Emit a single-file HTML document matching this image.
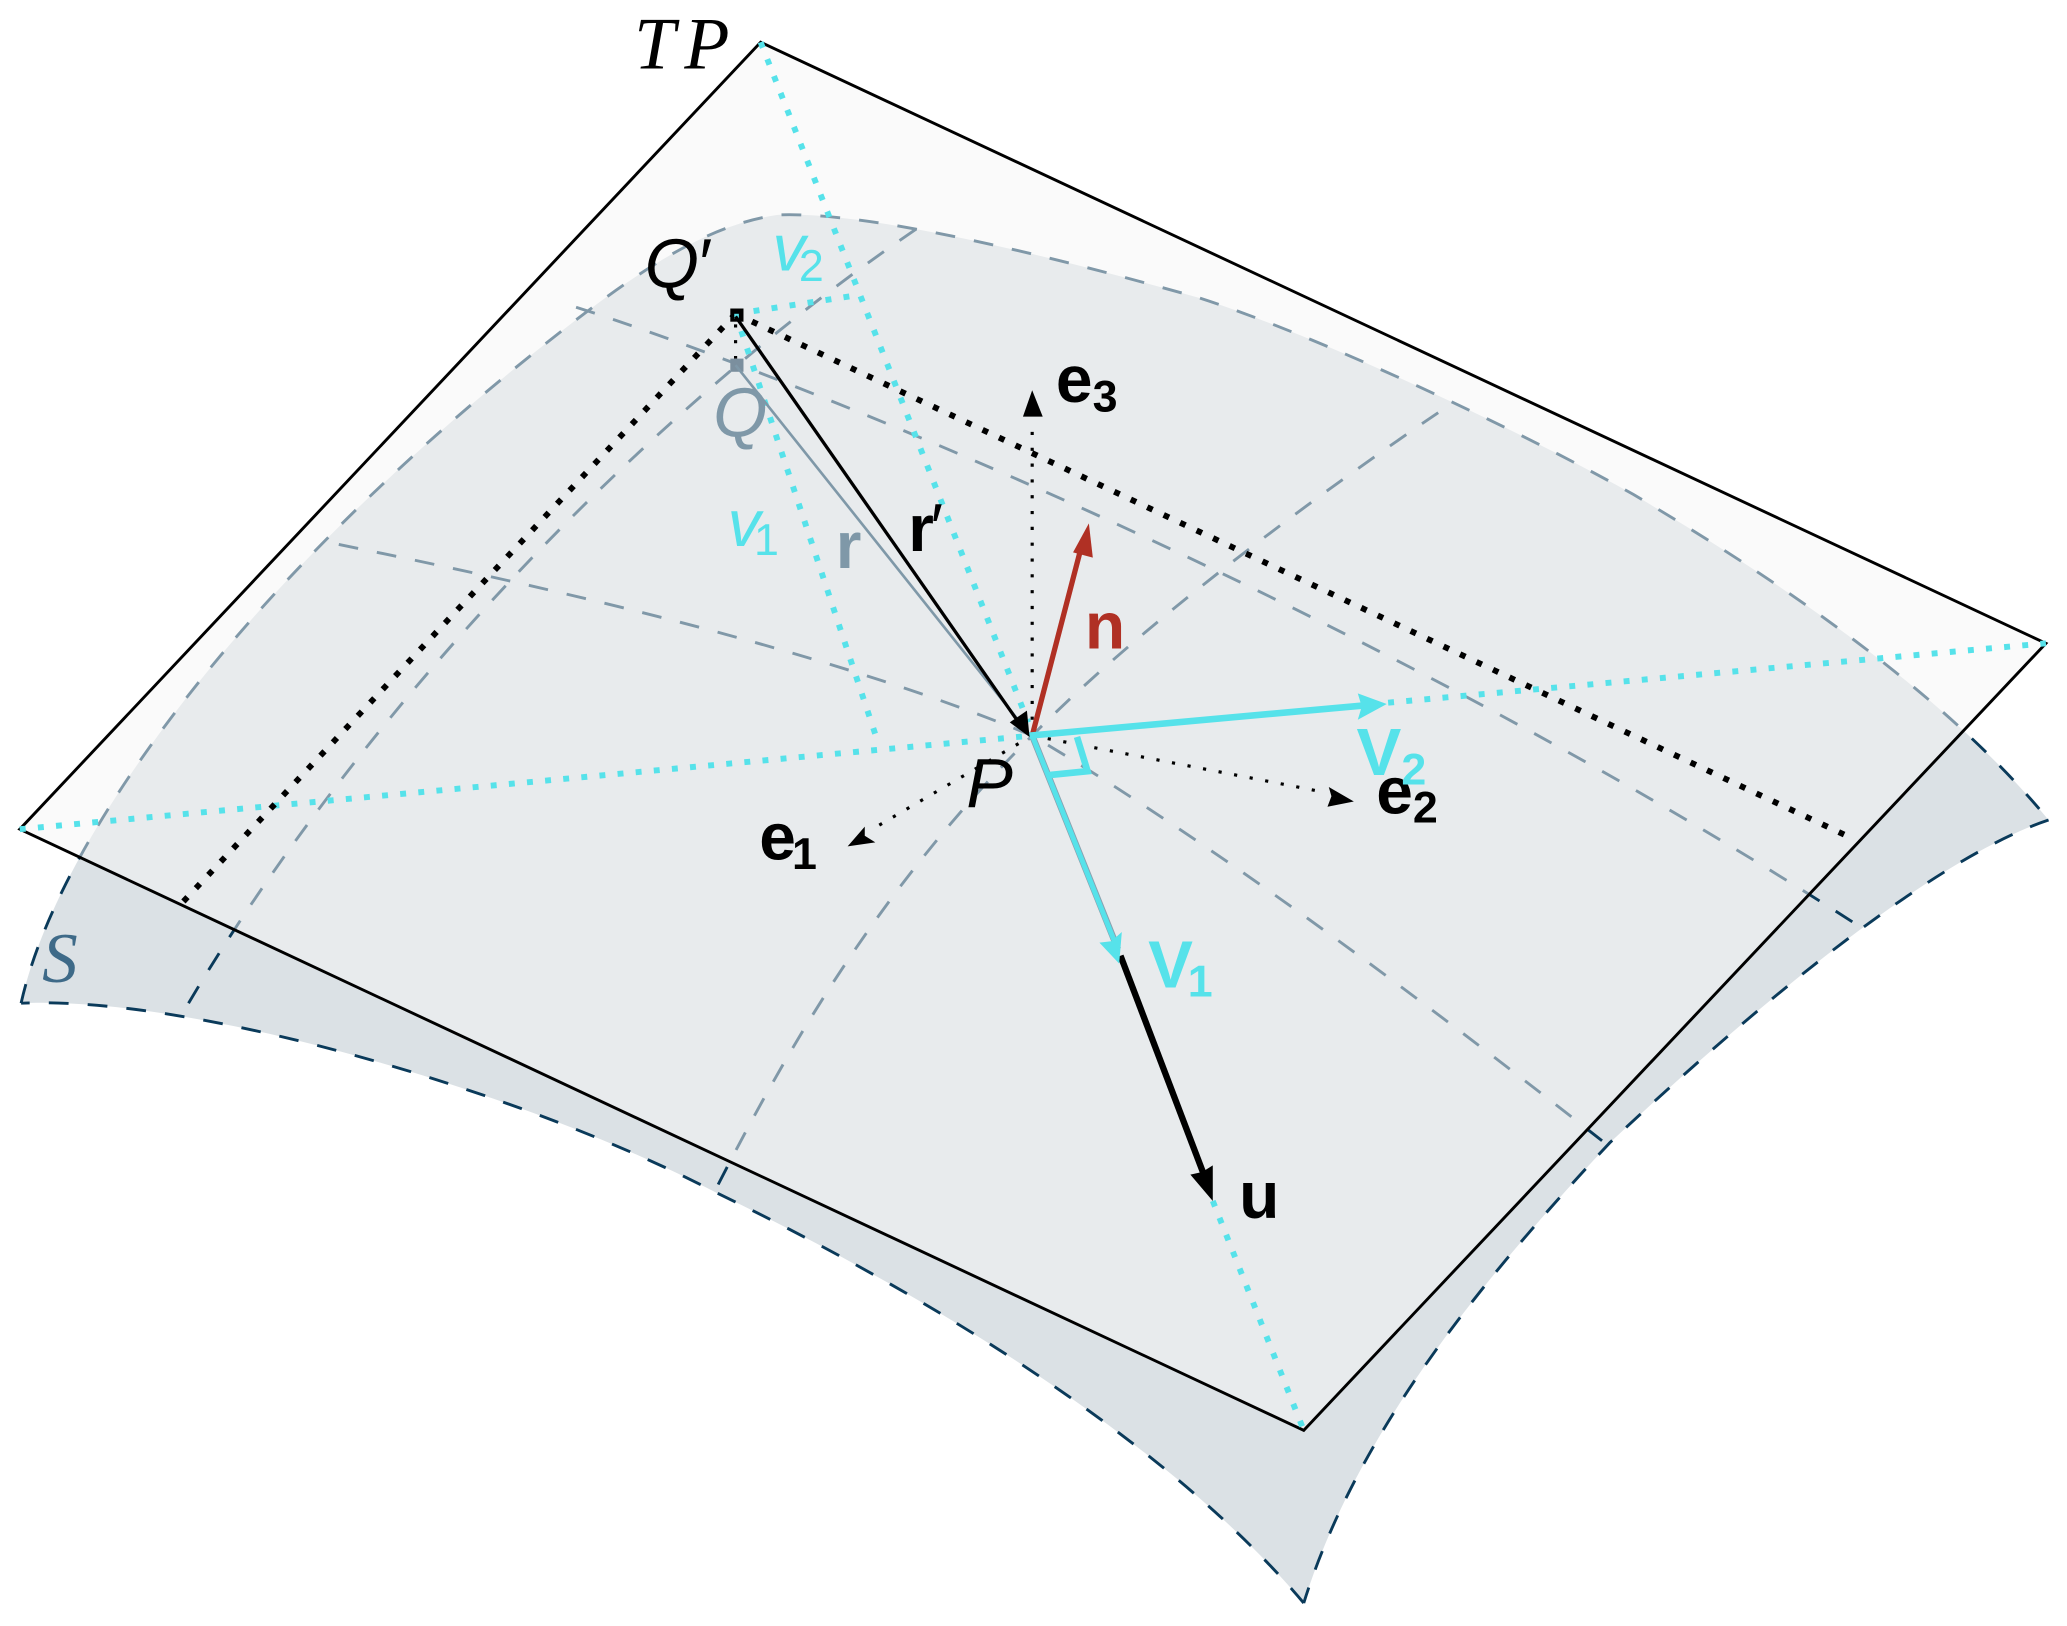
<!DOCTYPE html>
<html><head><meta charset="utf-8"><style>html,body{margin:0;padding:0;background:#fff}svg{display:block}
.sb{font-family:"Liberation Sans",sans-serif;font-weight:bold}
.si{font-family:"Liberation Sans",sans-serif;font-style:italic}
.sn{font-family:"Liberation Sans",sans-serif;font-style:normal;font-weight:normal}
.ser{font-family:"Liberation Serif",serif;font-style:italic}</style></head>
<body>
<svg xmlns="http://www.w3.org/2000/svg" width="2067" height="1626" viewBox="0 0 1568 1233.4">
<path d="M16,761 C45,630 200,420 455,229 C495,200 540,170 590,163 C660,160 800,195 910,226 C1000,255 1150,325 1239,375 C1340,435 1470,520 1554,622 C1470,650 1340,755 1221,867 C1125,970 1030,1085 989,1216 C900,1110 740,1000 542,904 C400,830 150,755 16,761 Z" fill="#dbe1e5"/>
<g fill="none" stroke="#0a3a5a" stroke-width="2.2" stroke-dasharray="15 14.5">
<path d="M16,761 C45,630 200,420 455,229 C495,200 540,170 590,163 C660,160 800,195 910,226 C1000,255 1150,325 1239,375 C1340,435 1470,520 1554,622"/>
<path d="M1554,622 C1470,650 1340,755 1221,867 C1125,970 1030,1085 989,1216"/>
<path d="M989,1216 C900,1110 740,1000 542,904 C400,830 150,755 16,761"/>
<path d="M1091,313 C1000,375 870,470 783,558 C670,670 600,790 542,904"/>
<path d="M257,413 C390,440 620,490 783,558 C930,645 1100,775 1220,869"/>
<path d="M143,761 C250,580 450,340 699,171"/>
<path d="M437,233 C630,295 1050,470 1411,703"/>
</g>
<polygon points="577,32 1552,488 989,1085 15,629" fill="#f5f5f5" fill-opacity=".5"/>
<polygon points="577,32 1552,488 989,1085 15,629" fill="none" stroke="#000" stroke-width="2.2"/>
<g fill="none" stroke="#56e2ea" stroke-width="4.5" stroke-dasharray="4.5 9.3">
<path d="M577,32 L780,548"/><path d="M920,911 L989,1085"/>
<path d="M15,629 L783,558"/><path d="M1053,533 L1552,488"/>
<path d="M558,238 L665,560"/><path d="M558,238 L650,224"/>
</g>
<g fill="none" stroke="#000" stroke-width="4.5" stroke-dasharray="4.5 9.3">
<path d="M558,238 L138,685"/><path d="M558,238 L1403,635"/>
</g>
<g fill="none" stroke="#000" stroke-width="2.4" stroke-dasharray="2.4 9.6">
<path d="M783,558 L783,318"/><path d="M783,558 L1005,601"/><path d="M783,558 L660,630"/><path d="M558,246 L558,272"/>
</g>
<polygon points="783,296 791,316 776,316" fill="#000"/>
<polygon points="1027,608 1008,597 1010,604 1007,612" fill="#000"/>
<polygon points="643,642 656,627 656,634 664,639" fill="#000"/>
<rect x="554" y="234" width="10" height="10" fill="#000"/>
<rect x="557" y="238" width="3.5" height="3.5" fill="#56e2ea"/>
<rect x="554" y="272" width="10" height="10" fill="#7b8f9e"/>
<path d="M558,277 L781,557" stroke="#7f98a8" stroke-width="2" fill="none"/>
<path d="M558,240 L772,547" stroke="#000" stroke-width="2.5" fill="none"/>
<polygon points="781,559 766,548 779,539" fill="#000"/>
<path d="M850,725 L914,893" stroke="#000" stroke-width="4.8" fill="none"/>
<polygon points="920,911 903,891 912,889 920,884" fill="#000"/>
<path d="M783,558 L821,412" stroke="#b03024" stroke-width="4" fill="none"/>
<polygon points="826,397 829,423 814,419" fill="#b03024"/>
<path d="M783,558 L848,720" stroke="#8aa0ae" stroke-width="5" fill="none"/>
<path d="M783,558 L847,718" stroke="#56e2ea" stroke-width="3.8" fill="none"/>
<polygon points="849,731 834,715 843,714 851,707" fill="#56e2ea"/>
<path d="M781,558 L1036,535" stroke="#56e2ea" stroke-width="5" fill="none"/>
<polygon points="1052,534 1030,546 1033,536 1030,526" fill="#56e2ea"/>
<path d="M817,559 L825,585 L795,588" stroke="#56e2ea" stroke-width="5" fill="none"/>
<text class="ser" x="481" y="52" font-size="56" letter-spacing="7" fill="#000">TP</text>
<text class="si" x="489" y="218" font-size="53" fill="#000">Q</text>
<text class="si" x="528" y="218" font-size="53" fill="#000">′</text>
<text class="si" x="586" y="205" font-size="50" fill="#56e2ea">v<tspan class="sn" font-size="34" dx="-5" dy="8">2</tspan></text>
<text class="si" x="541" y="331" font-size="53" fill="#7f98a8">Q</text>
<text class="si" x="552" y="414" font-size="50" fill="#56e2ea">v<tspan class="sn" font-size="34" dx="-5" dy="7">1</tspan></text>
<text class="sb" x="634" y="431" font-size="50" fill="#7f98a8">r</text>
<text class="sb" x="689" y="418" font-size="50" fill="#000">r</text>
<text class="sn" x="706" y="417" font-size="50" font-style="italic" fill="#000">′</text>
<text class="sb" x="801" y="305" font-size="50" fill="#000">e<tspan font-size="34" dy="7">3</tspan></text>
<text class="sb" x="823" y="492" font-size="50" fill="#b03024">n</text>
<text class="si" x="733" y="612" font-size="53" fill="#000">P</text>
<text class="sb" x="576" y="652" font-size="50" fill="#000">e<tspan font-size="34" dx="-3" dy="7">1</tspan></text>
<text class="sb" x="1044" y="617" font-size="50" fill="#000">e<tspan font-size="34" dy="7">2</tspan></text>
<text class="sb" x="1029" y="588" font-size="51" fill="#56e2ea">V<tspan font-size="34" dy="7">2</tspan></text>
<text class="sb" x="871" y="749" font-size="51" fill="#56e2ea">V<tspan font-size="34" dx="-4" dy="7">1</tspan></text>
<text class="sb" x="940" y="924" font-size="50" fill="#000">u</text>
<text class="ser" x="32" y="745" font-size="54" fill="#3e6a88">S</text>
</svg>
</body></html>
